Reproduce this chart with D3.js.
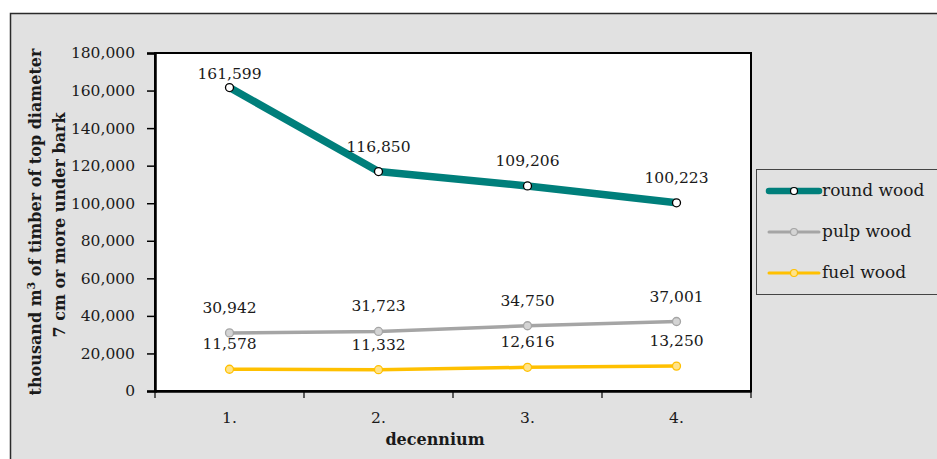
<!DOCTYPE html>
<html>
<head>
<meta charset="utf-8">
<script src="https://cdn.jsdelivr.net/npm/d3@7"></script>
<style>
  html, body { margin: 0; padding: 0; background: #ffffff; }
  svg { display: block; }
  text { font-family: "DejaVu Serif", "Liberation Serif", serif; fill: #1a1a1a; }
</style>
</head>
<body>
<svg id="chart" width="937" height="459"></svg>
<script>
// Decennial timber volumes by assortment
const categories = ["1.", "2.", "3.", "4."];
const roundWood = [161599, 116850, 109206, 100223];
const pulpWood = [30942, 31723, 34750, 37001];
const fuelWood = [11578, 11332, 12616, 13250];
const yTicks = [0, 20000, 40000, 60000, 80000, 100000, 120000, 140000, 160000, 180000];
const seriesNames = ["round wood", "pulp wood", "fuel wood"];

const series = [
  { name: seriesNames[0], values: roundWood, color: "#007f7b", width: 7.5, mFill: "#ffffff", mStroke: "#000000" },
  { name: seriesNames[1], values: pulpWood, color: "#a5a5a5", width: 3.5, mFill: "#d4d4d4", mStroke: "#a5a5a5" },
  { name: seriesNames[2], values: fuelWood, color: "#ffc000", width: 3.5, mFill: "#ffe38a", mStroke: "#ffc000" }
];

const svg = d3.select("#chart");
const plot = { left: 155, right: 751, top: 53, bottom: 391 };

// chart area background and border
svg.append("rect")
  .attr("x", 10.5).attr("y", 13.5)
  .attr("width", 940).attr("height", 460)
  .attr("fill", "#e1e1e1")
  .attr("stroke", "#2a2a2a").attr("stroke-width", 1.5);

const x = d3.scaleBand().domain(categories).range([plot.left, plot.right]).padding(0);
const y = d3.scaleLinear().domain([0, 180000]).range([plot.bottom, plot.top]);
const cx = d => x(d) + x.bandwidth() / 2;

// plot area
svg.append("rect")
  .attr("x", plot.left).attr("y", plot.top)
  .attr("width", plot.right - plot.left).attr("height", plot.bottom - plot.top)
  .attr("fill", "#ffffff")
  .attr("stroke", "#000000").attr("stroke-width", 2);

// y axis
const yAxis = svg.append("g")
  .attr("transform", `translate(${plot.left},0)`)
  .call(d3.axisLeft(y).tickValues(yTicks).tickFormat(d3.format(",")).tickSize(8).tickPadding(12));
yAxis.select(".domain").attr("stroke", "#000").attr("stroke-width", 2.5);
yAxis.selectAll(".tick line").attr("stroke", "#000").attr("stroke-width", 1.5);
yAxis.selectAll(".tick text").attr("font-size", 15.5).attr("font-family", "DejaVu Serif").attr("fill", "#1a1a1a");

// x axis: labels at category centres, ticks on category boundaries
const xAxis = svg.append("g")
  .attr("transform", `translate(0,${plot.bottom})`)
  .call(d3.axisBottom(x).tickSize(0).tickPadding(21));
xAxis.select(".domain").attr("stroke", "#000").attr("stroke-width", 2.5);
xAxis.selectAll(".tick text").attr("font-size", 15.5).attr("font-family", "DejaVu Serif").attr("fill", "#1a1a1a");
const bounds = categories.map(c => x(c)).concat([plot.right]);
svg.append("g").selectAll("line").data(bounds).join("line")
  .attr("x1", d => d).attr("x2", d => d)
  .attr("y1", plot.bottom).attr("y2", plot.bottom + 7)
  .attr("stroke", "#000").attr("stroke-width", 1.2);

// axis titles
svg.append("text")
  .attr("x", 435).attr("y", 445)
  .attr("text-anchor", "middle")
  .attr("font-size", 16).attr("font-weight", "bold")
  .text("decennium");

const yTitle = svg.append("text")
  .attr("transform", "translate(41,222) rotate(-90)")
  .attr("text-anchor", "middle")
  .attr("font-size", 16).attr("font-weight", "bold");
yTitle.append("tspan").attr("x", 0).attr("dy", 0).text("thousand m");
yTitle.append("tspan").attr("dy", -6).attr("font-size", 11).text("3");
yTitle.append("tspan").attr("dy", 6).text(" of timber of top diameter");
svg.append("text")
  .attr("transform", "translate(65,225) rotate(-90)")
  .attr("text-anchor", "middle")
  .attr("font-size", 16).attr("font-weight", "bold")
  .text("7 cm or more under bark");

// series lines, markers and value labels
const line = d3.line().x((d, i) => cx(categories[i])).y(d => y(d));
series.forEach(s => {
  svg.append("path")
    .attr("d", line(s.values))
    .attr("fill", "none")
    .attr("stroke", s.color)
    .attr("stroke-width", s.width)
    .attr("stroke-linejoin", "round");
  svg.append("g").selectAll("circle").data(s.values).join("circle")
    .attr("cx", (d, i) => cx(categories[i]))
    .attr("cy", d => y(d))
    .attr("r", 4)
    .attr("fill", s.mFill)
    .attr("stroke", s.mStroke)
    .attr("stroke-width", 1.3);
  svg.append("g").selectAll("text").data(s.values).join("text")
    .attr("x", (d, i) => cx(categories[i]))
    .attr("y", d => Math.max(y(d) - 20, 79))
    .attr("text-anchor", "middle")
    .attr("font-size", 15.5)
    .text(d => d3.format(",")(d));
});

// legend
svg.append("rect")
  .attr("x", 756.5).attr("y", 169.5)
  .attr("width", 200).attr("height", 125)
  .attr("fill", "#e1e1e1")
  .attr("stroke", "#444").attr("stroke-width", 1);
const legendY = [191, 232, 273];
series.forEach((s, i) => {
  const g = svg.append("g").attr("transform", `translate(0,${legendY[i]})`);
  g.append("line")
    .attr("x1", 769).attr("x2", 819)
    .attr("stroke", s.color).attr("stroke-width", s.width - (i === 0 ? 1 : 0.5))
    .attr("stroke-linecap", "round");
  g.append("circle")
    .attr("cx", 794).attr("r", 3.5)
    .attr("fill", s.mFill).attr("stroke", s.mStroke).attr("stroke-width", 1.2);
  g.append("text")
    .attr("x", 822).attr("y", 5)
    .attr("font-size", 17)
    .text(s.name);
});
</script>
</body>
</html>
